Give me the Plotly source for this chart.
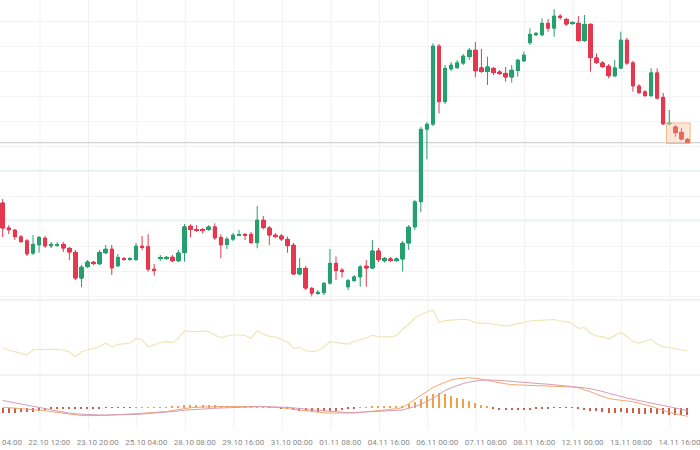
import plotly.graph_objects as go

# ---------------- data ----------------
tick_labels = ["21.10 04:00", "22.10 12:00", "23.10 20:00", "25.10 04:00", "28.10 08:00",
               "29.10 16:00", "31.10 00:00", "01.11 08:00", "04.11 16:00", "06.11 00:00",
               "07.11 08:00", "08.11 16:00", "12.11 00:00", "13.11 08:00", "14.11 16:00"]

open_ = [97.3, 72.3, 70, 63.3, 59.3, 46.7, 55, 62, 54, 54.8,
         55.7, 51.7, 47.7, 21.7, 33.3, 38, 36, 47, 51, 34,
         41.5, 40.7, 40.5, 54, 53.5, 31, 41.5, 41.7, 43, 39,
         47.3, 74, 70.5, 70.5, 70.5, 73.3, 62.7, 55.5, 60.7, 64.5,
         65.7, 65.7, 57.3, 80, 72.3, 65, 64.3, 60.7, 55, 25.8,
         31.7, 11.7, 6.7, 7.3, 16.7, 36.7, 30, 13, 19.5, 23,
         34, 31.7, 49.3, 39, 41.5, 39.5, 40.7, 56.7, 73, 98.3,
         170.7, 175.7, 254, 198.3, 231, 232.3, 236.7, 243.3, 250, 232.5,
         228.5, 231.7, 228.3, 226.7, 222.7, 229.5, 239, 257.3, 265, 265,
         276.7, 271.7, 284, 280.7, 276.4, 277, 259.3, 275.7, 242.3, 237.3,
         234, 224, 231.7, 260, 237.3, 214, 208.3, 204.3, 227.3, 202.7,
         176, 173.3, 167.7, 160.7]

high_ = [101, 75, 71, 65, 61, 65, 64, 64, 58, 58,
         58, 53, 50, 35, 40, 39, 50, 55, 55, 46,
         43, 43, 57, 64, 65.7, 36, 45, 44, 45, 50,
         76, 75.7, 75, 72, 75, 76.7, 65.7, 63, 67, 70,
         67, 68, 94, 84, 74, 67, 66, 63.3, 57, 42,
         34, 13, 10, 18, 51, 43.5, 32, 21, 25, 35,
         40, 60, 52, 43, 43, 42.5, 59, 75, 100, 173,
         178, 256.7, 256, 235, 238, 240, 246, 252, 258, 251,
         243.3, 233, 230, 233, 235, 241, 248.3, 271.7, 268, 281.7,
         281, 290.7, 286, 282, 279, 284, 285, 277, 246.7, 239,
         236, 240, 268.3, 262, 239, 216, 210, 231.7, 231.7, 207,
         190, 175, 172, 162]

low_ = [63, 66, 60, 57, 44, 45, 47.3, 52, 52, 53,
        48, 40, 20, 12.7, 32, 35, 35, 46, 25, 33,
        39, 39, 39, 50, 28.3, 24.3, 39, 40, 38, 38,
        38.3, 62.7, 68, 66.5, 69, 60, 41.7, 51, 59, 64,
        60, 56, 51.7, 70.7, 55, 62, 59, 47.3, 25, 25,
        10, 3.5, 5, 5, 15.5, 20, 22.5, 10, 18, 13.3,
        13.3, 31, 38, 37.5, 38, 38, 28.3, 50, 70, 87.7,
        140.7, 174, 186.7, 196, 229, 231, 235, 240, 222.7, 227,
        215, 225, 225, 218.3, 217.3, 223.3, 238, 255, 264, 264,
        268.3, 263.3, 280, 274, 275, 258.5, 258, 228.3, 236, 232,
        221.7, 223, 231, 235, 208.3, 206, 203, 203, 200.5, 175,
        175, 163.3, 159.5, 156.5]

close_ = [71.7, 70, 63.3, 58.3, 46, 55.7, 62.7, 54, 55.7, 55.5,
          51.7, 47.7, 21.7, 33, 38.3, 36.3, 47.7, 51, 32, 42.7,
          40.7, 41.5, 54, 52.7, 30.7, 29.3, 42.5, 42.7, 39, 47.3,
          73.5, 70.5, 69.5, 69.5, 73.3, 62, 55, 61, 65, 65.5,
          64.7, 57.3, 80, 72.3, 64.7, 63.3, 60.7, 54.3, 25.8, 31.7,
          11.7, 6.7, 7.7, 16.7, 36.7, 29.3, 28.3, 19.5, 23.3, 33.3,
          31.7, 49.3, 40, 41.7, 39.5, 41.5, 57, 73, 98.3, 170.7,
          175.7, 254, 198.3, 231.7, 235, 237.3, 244, 250, 229, 228.5,
          233.3, 227.5, 226.3, 222.7, 230, 240, 245, 265.7, 266.7, 276.7,
          271.7, 284, 282.5, 275.7, 277.2, 259.3, 275.7, 242.3, 237.3, 233.3,
          224, 232.3, 260, 236.7, 214, 207.3, 204.3, 227.3, 201.7, 176,
          177, 167.3, 160.7, 157.3]

rsi = [36.7, 32.7, 31.1, 29.3, 26.7, 33.3, 34.3, 34, 34.3, 34.3,
       33.3, 30.7, 24.4, 31.1, 33.3, 35.3, 37.7, 42.3, 37.7, 40.9,
       41.6, 42.3, 48.9, 46.7, 37.7, 40.7, 43.3, 44.4, 43.1, 48.9,
       59.1, 58, 57.7, 58.7, 57.7, 53.3, 49.7, 52, 53.3, 53.3,
       52.7, 48.9, 59.1, 54.3, 51.6, 50.7, 47.3, 44, 35.6, 36.9,
       32.7, 31.1, 32.3, 37.3, 44.4, 43.1, 42, 41.3, 44.7, 46.7,
       49.3, 52.9, 51.1, 50.7, 50.9, 52.7, 60.9, 67.3, 76, 80.7,
       83.3, 86.7, 70, 72.4, 73.1, 73.6, 74.3, 73.3, 69.7, 69.1,
       68.7, 68, 66.4, 65.3, 66.4, 68, 69.7, 72, 72.4, 72.7,
       74, 74, 72, 71.2, 68.7, 62.3, 63.3, 55.6, 52, 51.1,
       48, 52.7, 56.9, 51.1, 44.7, 42.4, 45.3, 47.6, 41.3, 37.6,
       36.7, 34.9, 33.6, 32]

macd = [0.3, -0.3, -0.8, -1.5, -1.8, -2.2, -2.5, -3.3, -4.3, -5.2,
        -6, -6.8, -7.5, -8, -8.1, -8.2, -8.2, -7.9, -7.5, -7.3,
        -7, -6.7, -6.3, -5.8, -5.4, -5, -4.6, -4.1, -3, -2,
        -0.7, -0.3, 0.2, 0.6, 0.8, 0.9, 1, 1.1, 1.2, 1.2,
        1.1, 1, 1, 0.9, 0.6, 0.1, -0.3, -1.1, -1.9, -2.5,
        -3.3, -4.2, -4.9, -5.3, -5.5, -5.6, -5.7, -5.8, -5.5, -5,
        -4.5, -3.7, -3, -2.5, -1.8, -1.2, 0, 4, 8, 12.2,
        16, 20, 22.7, 25.5, 27.7, 28.7, 29.5, 29.7, 29.3, 28.6,
        27.3, 25.8, 24.5, 23.7, 22.9, 22.5, 22.2, 22, 21.8, 21.7,
        21.5, 21.4, 21.2, 20.9, 20.5, 19.8, 18, 15.7, 13.2, 11,
        9, 8, 7.3, 6.5, 5.8, 4.3, 2.9, 1.2, -0.8, -3,
        -4.9, -6.3, -7.7, -8.8]

signal = [7, 5.8, 4.5, 3.3, 2, 0.8, -0.3, -1.5, -2.7, -3.8,
          -4.8, -5.7, -6.3, -6.7, -7, -7.3, -7.5, -7.5, -7.5, -7.5,
          -7.5, -7.3, -6.9, -6.5, -6.1, -5.7, -5.3, -4.8, -4.2, -3.5,
          -2.7, -2.2, -1.8, -1.5, -1.1, -0.8, -0.5, -0.2, 0.1, 0.3,
          0.5, 0.7, 0.8, 0.8, 0.8, 0.7, 0.5, 0.2, -0.4, -0.8,
          -1.4, -2.1, -2.8, -3.4, -3.9, -4.4, -4.9, -5.1, -5, -4.8,
          -4.5, -4.2, -3.8, -3.5, -3.2, -2.9, -2.5, -1, 1, 3.2,
          6, 9.3, 13, 17, 19.7, 22, 24, 25.5, 26.5, 27.2,
          27.5, 27.5, 27.1, 26.6, 26, 25.5, 25, 24.5, 24.1, 23.7,
          23.3, 22.8, 22.3, 21.9, 21.3, 20.5, 19.7, 18.7, 17.5, 16,
          14.2, 12.5, 11, 9.5, 8.2, 7, 6, 5, 3.7, 2.2,
          0.8, -0.5, -1.8, -3.2]

hist = [-5, -5, -5, -4.5, -4.5, -4, -3, -2, -1.5, -1.2,
        -1, -1, -1, -1, -1, -0.8, -0.7, -0.5, -0.3, -0.3,
        -0.3, -0.3, 0.3, 0.3, 0.3, 0.3, 0.3, 0.5, 0.8, 1.2,
        2.5, 2.8, 3, 3, 2.8, 2.5, 2, 1.2, 1, 0.8,
        0.5, 0.3, 0.3, 0.2, -0.2, -0.5, -0.8, -1.5, -2.5, -3,
        -3.5, -4, -4, -3.8, -3.5, -3, -2.5, -1.5, -1, 0.3,
        0.5, 0.8, 0.8, 1, 1, 1.2, 2, 4, 6, 9,
        12, 14, 15, 13.5, 12, 10, 8.5, 6.5, 5, 2.5,
        0.7, -1.5, -2, -2.2, -2.3, -2.3, -2.2, -2, -1.8, -1.5,
        -1, -0.5, -0.3, -0.3, -0.5, -1.5, -2, -3, -3.5, -4.5,
        -5, -5, -4.5, -5, -5.5, -6, -6, -5.5, -6, -6.5,
        -7, -7, -7, -7]

# ---------------- styling ----------------
GREEN = "#26a06e"
RED = "#e5394f"
N = len(close_)
x = list(range(N))

H_PLOT = 430.0  # plot-area height in px (450 - bottom margin)
dom_main = [(H_PLOT - 300) / H_PLOT, 1.0]
dom_rsi = [(H_PLOT - 375) / H_PLOT, (H_PLOT - 300) / H_PLOT]
dom_macd = [0.0, (H_PLOT - 375) / H_PLOT]

up = [c >= o for o, c in zip(open_, close_)]
candle_colors = [GREEN if u else RED for u in up]
body_base = [min(o, c) for o, c in zip(open_, close_)]
body_len = [max(abs(c - o), 0.9) for o, c in zip(open_, close_)]

fig = go.Figure()

# candle bodies (wider than plotly's default candlestick body)
fig.add_trace(go.Bar(
    x=x, y=body_len, base=body_base, width=0.74,
    marker=dict(color=candle_colors, line=dict(width=0)),
    showlegend=False, hoverinfo="skip", xaxis="x", yaxis="y"))

# wicks (candlestick trace)
fig.add_trace(go.Candlestick(
    x=x, open=open_, high=high_, low=low_, close=close_,
    increasing=dict(line=dict(color=GREEN, width=1), fillcolor=GREEN),
    decreasing=dict(line=dict(color=RED, width=1), fillcolor=RED),
    whiskerwidth=0, showlegend=False, hoverinfo="skip",
    xaxis="x", yaxis="y"))

fig.add_trace(go.Scatter(
    x=x, y=rsi, mode="lines", line=dict(color="#efe6b6", width=1.2),
    showlegend=False, hoverinfo="skip", xaxis="x", yaxis="y2"))

fig.add_trace(go.Bar(
    x=x, y=hist, width=0.22,
    marker=dict(color=["#f0a048" if v >= 0 else "#c9604c" for v in hist], line=dict(width=0)),
    showlegend=False, hoverinfo="skip", xaxis="x", yaxis="y3"))

fig.add_trace(go.Scatter(
    x=x, y=macd, mode="lines", line=dict(color="#f2a670", width=1),
    showlegend=False, hoverinfo="skip", xaxis="x", yaxis="y3"))

fig.add_trace(go.Scatter(
    x=x, y=signal, mode="lines", line=dict(color="#d69cb4", width=1),
    showlegend=False, hoverinfo="skip", xaxis="x", yaxis="y3"))

tickvals = [8 * k - 0.3 for k in range(len(tick_labels))]

shapes = []
# vertical grid lines (slightly left of the labels, as in the reference)
for tv in tickvals:
    shapes.append(dict(type="line", xref="x", yref="paper", x0=tv - 1.55, x1=tv - 1.55,
                       y0=0, y1=1, line=dict(color="#f1f1f1", width=1), layer="below"))
# panel separators
for yy in (dom_main[0], dom_rsi[0]):
    shapes.append(dict(type="line", xref="paper", yref="paper", x0=0, x1=1, y0=yy, y1=yy,
                       line=dict(color="#e6e6e6", width=1), layer="below"))
# two level lines
for lv in (129.5, 80):
    shapes.append(dict(type="line", xref="paper", yref="y", x0=0, x1=1, y0=lv, y1=lv,
                       line=dict(color="#e1eeea", width=1), layer="below"))
# current price line
shapes.append(dict(type="line", xref="paper", yref="y", x0=0, x1=1,
                   y0=close_[-1], y1=close_[-1], line=dict(color="#c6c6c6", width=1), layer="below"))
# highlight box around the last candles
shapes.append(dict(type="rect", xref="x", yref="y", x0=N - 4 - 0.45, x1=N - 1 + 0.45,
                   y0=min(low_[N - 4:]), y1=max(open_[N - 4], close_[N - 4]),
                   fillcolor="rgba(248,190,140,0.35)", line=dict(color="#f3b887", width=1),
                   layer="above"))

fig.update_layout(
    width=700, height=450,
    margin=dict(l=0, r=0, t=0, b=20, autoexpand=False),
    paper_bgcolor="white", plot_bgcolor="white",
    showlegend=False, barmode="overlay", bargap=0,
    font=dict(family="Roboto, Arial, sans-serif", size=8, color="#8a8a8a"),
    xaxis=dict(domain=[0, 1], range=[-0.446, 115.07], anchor="y3", automargin=False,
               tickmode="array", tickvals=tickvals, ticktext=tick_labels,
               showgrid=False, zeroline=False, showline=False, ticks="",
               ticklabeloverflow="allow", ticklabelstandoff=6,
               tickfont=dict(size=8, color="#8a8a8a"),
               rangeslider=dict(visible=False)),
    yaxis=dict(domain=dom_main, range=[0, 300], showticklabels=False, zeroline=False,
               automargin=False,
               tickmode="array", tickvals=[4 + 25 * k for k in range(12)],
               gridcolor="#f4f4f4", showline=False),
    yaxis2=dict(domain=dom_rsi, range=[0, 100], showticklabels=False, showgrid=False,
                zeroline=False, showline=False, automargin=False),
    yaxis3=dict(domain=dom_macd, range=[-22.5, 32.5], showticklabels=False, showgrid=False,
                zeroline=False, showline=False, automargin=False),
    shapes=shapes,
)

fig.write_html("out.html")
